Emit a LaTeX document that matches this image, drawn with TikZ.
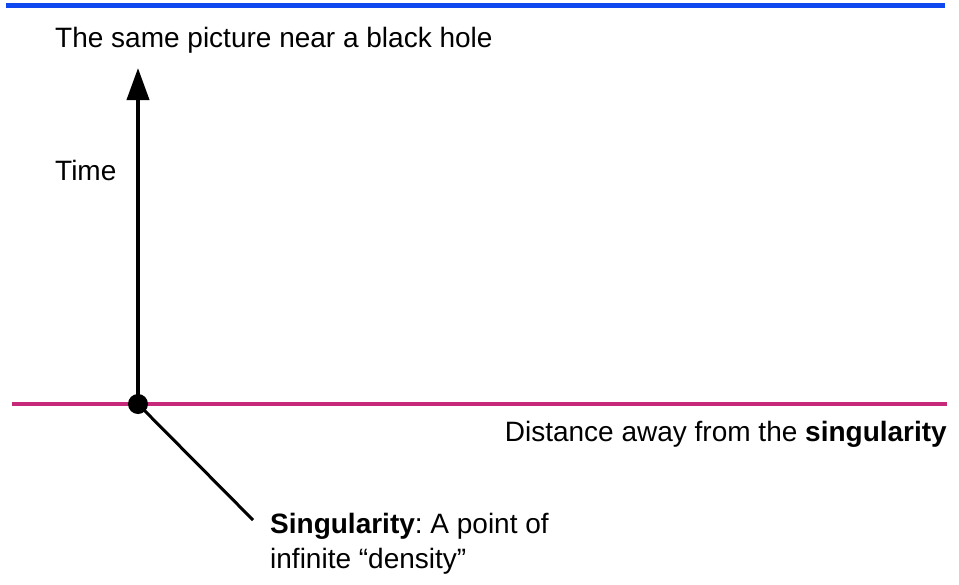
\documentclass[tikz,border=0pt]{standalone}
\usepackage{fontspec}
\setmainfont{Liberation Sans}
\usetikzlibrary{arrows.meta}
\frenchspacing
\definecolor{topblue}{RGB}{16,72,240}
\definecolor{axismag}{RGB}{200,40,122}
\tikzset{
  lbl/.style={inner sep=0pt, font=\fontsize{28}{35}\selectfont, text=black},
  axisline/.style={line width=4pt, black},
}
\begin{document}
\begin{tikzpicture}[x=1pt,y=-1pt]
\useasboundingbox (0,0) rectangle (959,584);
% top blue rule
\coordinate (bl) at (6,5);
\coordinate (br) at (945,5);
\draw[topblue, line width=5pt] (bl) -- (br);
% horizontal axis
\coordinate (hl) at (12,404);
\coordinate (hr) at (947,404);
\draw[axismag, line width=4pt] (hl) -- (hr);
% singularity point
\node[circle, fill=black, minimum size=20pt, inner sep=0pt] (sing) at (138,404) {};
% time arrow
\coordinate (ttip) at (138,68);
\draw[axisline, -{Triangle[length=32pt,width=22pt]}] (sing.center) -- (ttip);
% pointer line
\coordinate (pend) at (253,520);
\draw[line width=3pt] (sing.center) -- (pend);
% labels
\node[lbl, anchor=base west] (title) at (55,47) {The same picture near a black hole};
\node[lbl, anchor=base west] (time) at (55,180) {Time};
\node[lbl, anchor=base east] (dist) at (947,441) {Distance away from the \textbf{singularity}};
\node[lbl, anchor=north west, align=left] (desc) at (270,513) {\textbf{Singularity}: A point of\\infinite “density”};
\end{tikzpicture}
\end{document}
